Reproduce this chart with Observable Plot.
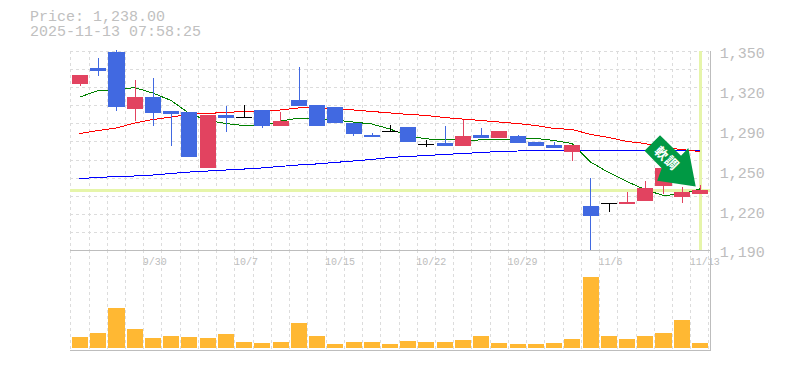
<!DOCTYPE html>
<html><head><meta charset="utf-8">
<script src="https://cdn.jsdelivr.net/npm/d3@7"></script>
<script src="https://cdn.jsdelivr.net/npm/@observablehq/plot@0.6"></script>
<style>
html,body{margin:0;padding:0;background:#fff}
#wrap{position:relative;width:785px;height:370px;overflow:hidden}
#wrap svg{position:absolute;left:0}
#title{position:absolute;left:30px;top:10px;font:15px/15px "Liberation Mono",monospace;color:#c0c0c0;white-space:pre}
</style></head><body>
<div id="wrap"><div id="title"></div></div>
<script>
const titleLines = ["Price: 1,238.00", "2025-11-13 07:58:25"];
const openP  = [1323.5,1336.3,1349,1303.4,1313,1301.8,1301,1256,1298.6,1297,1302.6,1289.7,1310.6,1306.6,1305,1292.1,1282.5,1285.7,1288.9,1275.5,1276,1273.6,1282.5,1280,1281.7,1276.8,1274.4,1268.8,1225.4,1227.8,1227,1229.4,1241.5,1232.6,1235];
const closeP = [1331,1334,1305,1313,1300.2,1299.4,1264.8,1298.6,1296,1297,1289.7,1293.7,1305.8,1289.7,1292.1,1283.3,1280.9,1285.7,1276.8,1275.5,1273.6,1281.7,1280,1285.7,1276,1273.6,1272,1274.4,1217.4,1227.8,1228.6,1239.9,1256,1236.7,1238.3];
const highP  = [1331,1344.4,1350.8,1326.7,1328.3,1301.8,1301,1298.6,1305.8,1306.6,1302.6,1301,1337,1306.6,1305,1292.1,1284.1,1290.5,1288.9,1278.5,1289.7,1294.5,1288,1285.7,1282.5,1276.8,1276.8,1274.4,1247.9,1227.8,1236.7,1245.5,1256,1240.7,1242.3];
const lowP   = [1322,1330,1301.8,1293.7,1289.7,1273.6,1264.8,1256,1284.9,1297,1288,1289.7,1305.8,1289.7,1292.1,1281.7,1280.9,1285.7,1276.8,1272.8,1273.6,1273.6,1280,1280,1276,1273.6,1272,1261.6,1190,1220.6,1227,1229.4,1235,1227.8,1235];
const volume = [1100,1500,4000,1900,1000,1200,1100,1000,1400,600,500,600,2500,1200,400,600,600,400,700,600,600,800,1200,500,400,400,500,900,7100,1200,900,1200,1500,2800,500];
const maShort = [1313.4,1318.6,1319,1321,1316.6,1310.6,1300.2,1294.5,1292.1,1290.5,1290.1,1294.1,1296.5,1296.1,1294.9,1293.3,1291.7,1287.7,1282.1,1279.7,1279.3,1278.5,1278.9,1279.3,1279.7,1280.1,1278.5,1276,1261.2,1252.7,1245.5,1238.9,1234.2,1235.4,1239.5];
const maMid = [1284.1,1286.5,1288.5,1292.5,1295.3,1297.3,1299.4,1300.2,1301,1301.8,1302.2,1303,1304.6,1304.6,1304.2,1303,1301.8,1300.6,1299.4,1298.6,1296.9,1295.7,1294.5,1293.3,1292.1,1290.5,1288.1,1287.3,1283.3,1280.9,1277.7,1276,1272.8,1271.2,1269.6];
const maLong = [1247.9,1248.7,1249.5,1249.9,1250.7,1251.9,1253.1,1253.9,1254.7,1255.5,1256.4,1257.6,1258.8,1259.6,1260.8,1262,1263.2,1264.8,1265.6,1266.4,1267.2,1268,1268.8,1269.6,1270,1270.4,1270.4,1270.4,1270.4,1270.4,1270.4,1270.4,1270.4,1270.4,1270.4];
const dateLabels = ["9/30","10/7","10/15","10/22","10/29","11/6","11/13"];
const dateIndex  = [4,9,14,19,24,29,34];
const yTicks  = [1350,1318,1286,1254,1222,1190];
const yLabels = ["1,350","1,320","1,290","1,250","1,220","1,190"];
const lastPrice = 1238;
const lastIndex = 34;
const signalText = ["軟","調"];
const signalIndex = [32.37,32.93];
const signalPrice = [1267.8,1260.2];

const gridC="#dcdcdc", axisC="#bdbdbd", redC="#e24360", blueC="#4169e1", markC="#e6f5aa", volC="#ffb833", arrowC="#009944";
const mono='"Liberation Mono",monospace';
const N=openP.length, xMax=35.1;
const idx=d3.range(N);
const rows=idx.map(i=>({i,o:openP[i],c:closeP[i],h:highP[i],l:lowP[i],v:volume[i]}));
const candleColor=d=>d.c>d.o?redC:d.c<d.o?blueC:"#000";
const xScale={type:"linear",domain:[0,xMax]};
const vGrid=d3.range(N+1);
const hGrid=d3.range(12).map(k=>1350-k*160/11);
const crisp={shapeRendering:"crispEdges"};
const dash={stroke:gridC,strokeDasharray:"3,3",strokeWidth:1,...crisp};

document.getElementById("title").textContent=titleLines.join("\n");

function arrowMark(index,scales){
  // tip anchored to the data; outline in pixels relative to the tip
  const tx=scales.x(lastIndex+.3), ty=scales.y(1241);
  const pts=[[-35.7,-51.2],[-51.2,-35.7],[-34,-18.4],[-38.5,-5.7],[0,0],[-7.4,-38.5],[-14.7,-30.7]];
  const p=document.createElementNS("http://www.w3.org/2000/svg","path");
  p.setAttribute("d","M"+pts.map(q=>[tx+q[0],ty+q[1]].join(",")).join("L")+"Z");
  p.setAttribute("fill",arrowC);
  return p;
}

const vol=Plot.plot({
  width:785,height:120,marginLeft:70.3,marginRight:74.7,marginTop:0,marginBottom:20,
  style:{background:"transparent"},
  x:{...xScale,axis:null},
  y:{domain:[0,7100],range:[98,27],axis:null},
  marks:[
    Plot.ruleX(vGrid,{x:d=>d,...dash}),
    Plot.ruleX([xMax],{x:d=>d,stroke:axisC,...crisp}),
    Plot.rect(rows,{x1:d=>d.i,x2:d=>d.i+1,y1:0,y2:"v",insetLeft:1.7,insetRight:.5,fill:volC,...crisp}),
    Plot.frame({anchor:"bottom",stroke:axisC,...crisp})
  ]
});
vol.style.top="250px";
document.getElementById("wrap").append(vol);

const dx=.5;
const price=Plot.plot({
  width:785,height:270,marginLeft:70.3,marginRight:74.7,marginTop:51,marginBottom:20,
  style:{background:"transparent"},
  x:{...xScale,axis:null},
  y:{domain:[1190,1350],axis:null},
  marks:[
    Plot.ruleX(vGrid,{x:d=>d,...dash}),
    Plot.ruleY(hGrid,{y:d=>d,...dash}),
    Plot.ruleY([lastPrice],{y:d=>d,stroke:markC,strokeWidth:3,...crisp}),
    Plot.ruleX([lastIndex+.5],{x:d=>d,dx:1,stroke:markC,strokeWidth:3,...crisp}),
    Plot.ruleX([xMax],{x:d=>d,stroke:axisC,...crisp}),
    Plot.ruleY([1190],{y:d=>d,stroke:axisC,...crisp}),
    Plot.line(idx,{x:i=>i+.5,y:i=>maLong[i],stroke:"#0000ff",strokeWidth:1,...crisp}),
    Plot.line(idx,{x:i=>i+.5,y:i=>maMid[i],stroke:"#ff0000",strokeWidth:1,...crisp}),
    Plot.line(idx,{x:i=>i+.5,y:i=>maShort[i],stroke:"#008000",strokeWidth:1,...crisp}),
    Plot.ruleX(rows,{x:d=>d.i+.5,y1:"l",y2:"h",dx,stroke:candleColor,strokeWidth:1,...crisp}),
    Plot.rect(rows.filter(d=>d.o!==d.c),{x1:d=>d.i,x2:d=>d.i+1,y1:"o",y2:"c",insetLeft:1.7,insetRight:.5,fill:candleColor,...crisp}),
    Plot.ruleY(rows.filter(d=>d.o===d.c),{y:"c",x1:d=>d.i,x2:d=>d.i+1,insetLeft:1.7,insetRight:.5,stroke:"#000",...crisp}),
    arrowMark,
    Plot.text(signalText,{x:(d,i)=>signalIndex[i],y:(d,i)=>signalPrice[i],text:d=>d,rotate:45,fill:"#fff",fontSize:13,fontWeight:"bold",fontFamily:'"Noto Sans CJK JP"'}),
    Plot.axisY(yTicks,{anchor:"right",tickSize:0,tickPadding:9,textAnchor:"start",dy:2,fontSize:15,fontFamily:mono,fill:axisC,tickFormat:d=>yLabels[yTicks.indexOf(d)],label:null}),
    Plot.text(dateLabels,{x:(d,i)=>dateIndex[i],frameAnchor:"bottom",dy:7,dx:-1,lineAnchor:"top",textAnchor:"start",fontSize:10,fontFamily:mono,fill:axisC})
  ]
});
price.style.top="0px";
document.getElementById("wrap").append(price);
</script>
</body></html>
